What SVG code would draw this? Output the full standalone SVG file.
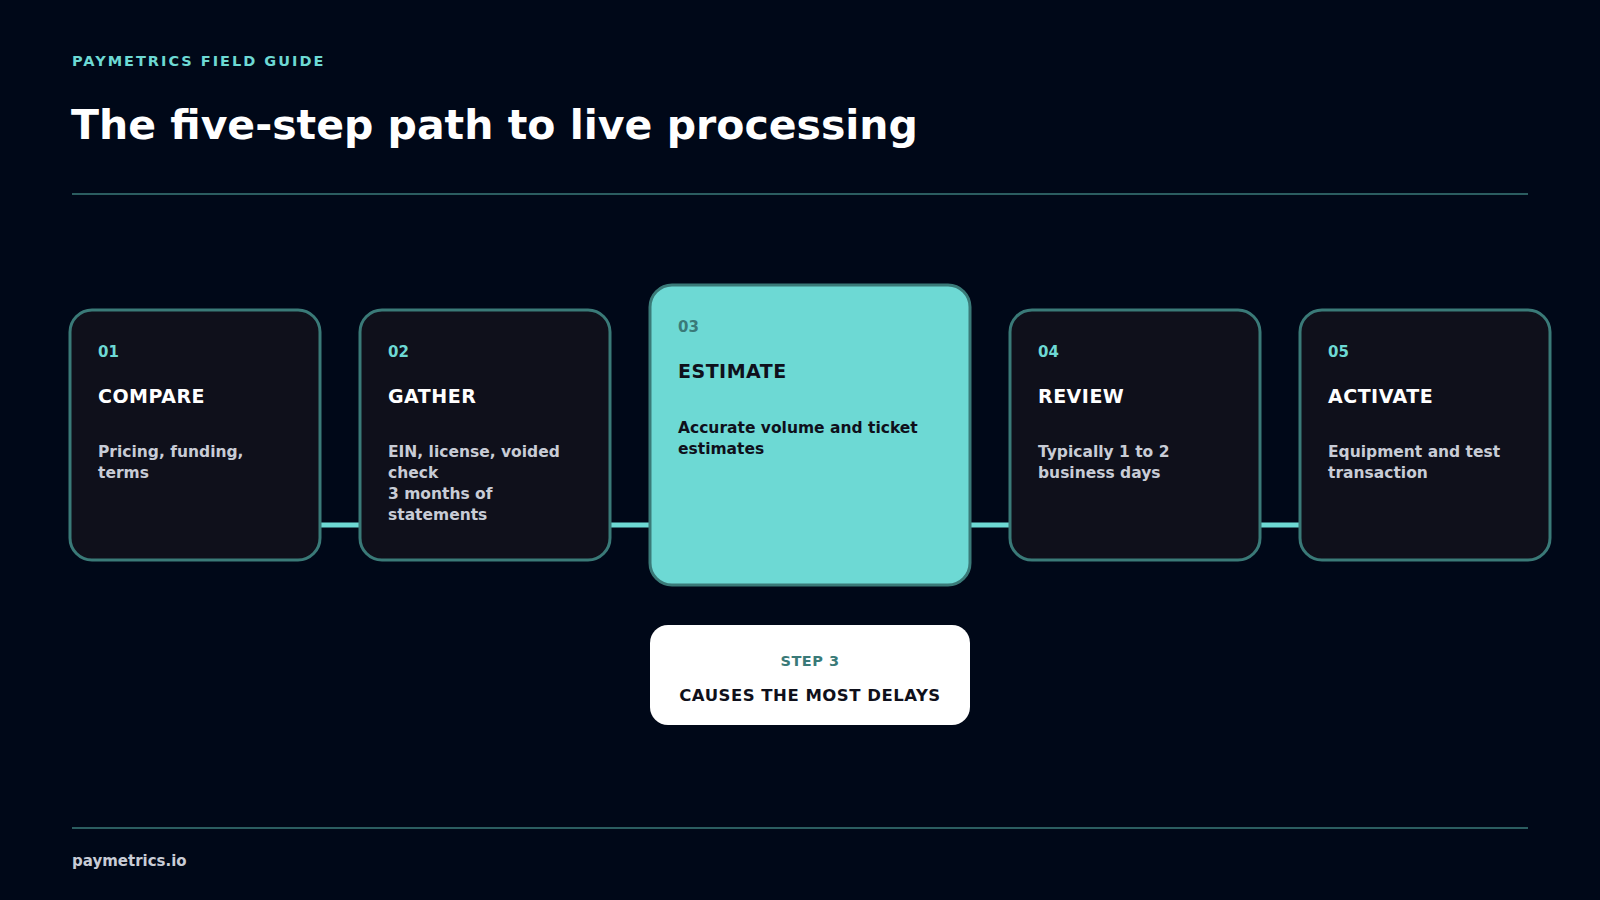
<svg xmlns="http://www.w3.org/2000/svg" width="1600" height="900" viewBox="0 0 1600 900">
<style>
text{font-family:"DejaVu Sans","Liberation Sans",sans-serif;font-weight:bold}
.card{fill:#0f101b;stroke:#3a7a78;stroke-width:3}
.num{fill:#6dd9d4;font-size:15px}
.ttl{fill:#ffffff;font-size:19px;letter-spacing:0.5px}
.body{fill:#c8ccd6;font-size:15.5px}
.conn{stroke:#6dd9d4;stroke-width:5;stroke-linecap:round}
</style>
<rect width="1600" height="900" fill="#000818"/>
<text x="72" y="66" fill="#6dd9d4" font-size="14.5" letter-spacing="2">PAYMETRICS FIELD GUIDE</text>
<text x="71" y="139" fill="#ffffff" font-size="41">The five-step path to live processing</text>
<line x1="72" y1="194" x2="1528" y2="194" stroke="#3a7a78" stroke-width="1.5"/>
<g id="connectors">
<line class="conn" x1="320" y1="525" x2="360" y2="525"/>
<line class="conn" x1="610" y1="525" x2="650" y2="525"/>
<line class="conn" x1="969" y1="525" x2="1010" y2="525"/>
<line class="conn" x1="1260" y1="525" x2="1300" y2="525"/>
</g>
<g id="step1"><rect class="card" x="70" y="310" width="250" height="250" rx="22"/>
<text class="num" x="98" y="357">01</text><text class="ttl" x="98" y="403">COMPARE</text>
<text class="body" x="98" y="457">Pricing, funding,</text><text class="body" x="98" y="478">terms</text></g>
<g id="step2"><rect class="card" x="360" y="310" width="250" height="250" rx="22"/>
<text class="num" x="388" y="357">02</text><text class="ttl" x="388" y="403">GATHER</text>
<text class="body" x="388" y="457">EIN, license, voided</text><text class="body" x="388" y="478">check</text>
<text class="body" x="388" y="499">3 months of</text><text class="body" x="388" y="520">statements</text></g>
<g id="step3"><rect x="650" y="285" width="320" height="300" rx="22" fill="#6dd9d4" stroke="#3a7a78" stroke-width="3"/>
<text x="678" y="332" fill="#3a7a78" font-size="15">03</text><text x="678" y="378" fill="#0f101b" font-size="19" letter-spacing="0.5">ESTIMATE</text>
<text x="678" y="433" fill="#0f101b" font-size="15.5">Accurate volume and ticket</text><text x="678" y="454" fill="#0f101b" font-size="15.5">estimates</text></g>
<g id="step4"><rect class="card" x="1010" y="310" width="250" height="250" rx="22"/>
<text class="num" x="1038" y="357">04</text><text class="ttl" x="1038" y="403">REVIEW</text>
<text class="body" x="1038" y="457">Typically 1 to 2</text><text class="body" x="1038" y="478">business days</text></g>
<g id="step5"><rect class="card" x="1300" y="310" width="250" height="250" rx="22"/>
<text class="num" x="1328" y="357">05</text><text class="ttl" x="1328" y="403">ACTIVATE</text>
<text class="body" x="1328" y="457">Equipment and test</text><text class="body" x="1328" y="478">transaction</text></g>
<g id="callout"><rect x="650" y="625" width="320" height="100" rx="18" fill="#ffffff"/>
<text x="810" y="666" text-anchor="middle" fill="#3a7a78" font-size="14.5" letter-spacing="0.5">STEP 3</text>
<text x="810" y="701" text-anchor="middle" fill="#0f101b" font-size="16.5" letter-spacing="0.5">CAUSES THE MOST DELAYS</text></g>
<line x1="72" y1="828" x2="1528" y2="828" stroke="#3a7a78" stroke-width="1.5"/>
<text x="72" y="866" fill="#c8ccd6" font-size="15">paymetrics.io</text>
</svg>
